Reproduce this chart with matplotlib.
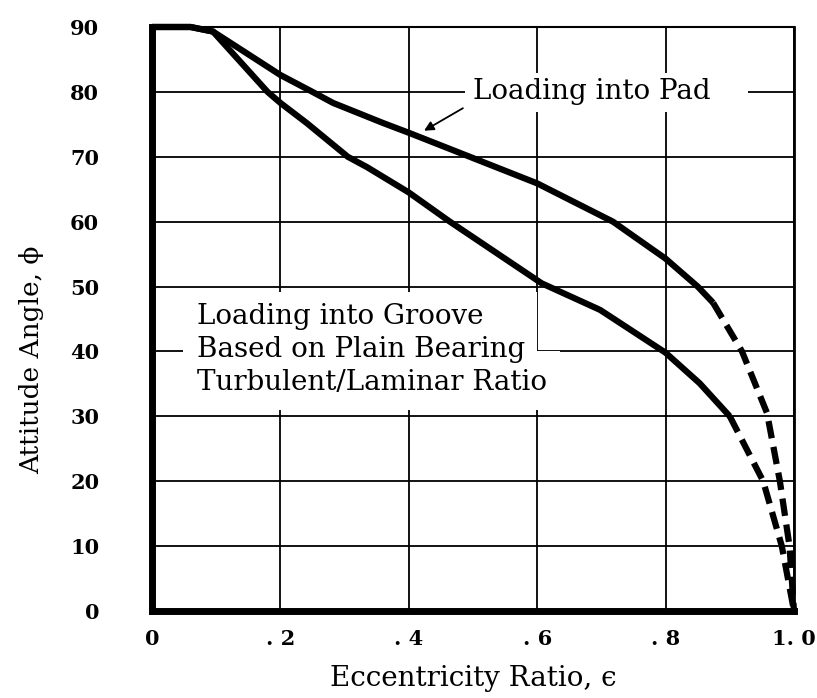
import matplotlib
matplotlib.use("Agg")
import matplotlib.pyplot as plt
from matplotlib.patches import Rectangle

# Loading into pad (upper curve)
pad_eps = [0.0, 0.06, 0.095, 0.2, 0.25, 0.282, 0.36, 0.4, 0.495, 0.6, 0.718, 0.8, 0.85, 0.874]
pad_phi = [90, 90, 89.3, 82.6, 80, 78.3, 75.2, 73.7, 70, 65.9, 60, 54.3, 50, 47.5]
pad_eps_dash = [0.874, 0.919, 0.958, 0.978, 0.993, 1.0]
pad_phi_dash = [47.5, 40, 30.5, 20, 10, 0]

# Loading into groove (lower curve)
groove_eps = [0.0, 0.06, 0.095, 0.18, 0.2, 0.241, 0.305, 0.335, 0.4, 0.464, 0.607, 0.698, 0.8, 0.853, 0.9]
groove_phi = [90, 90, 89.3, 80, 78.3, 75.2, 70, 68.4, 64.5, 60, 50.5, 46.4, 39.8, 35.1, 30]
groove_eps_dash = [0.9, 0.952, 0.981, 1.0]
groove_phi_dash = [30, 20, 10, 0]

x_ticks = [0, 0.2, 0.4, 0.6, 0.8, 1.0]
x_labels = ["0", ". 2", ". 4", ". 6", ". 8", "1. 0"]
y_ticks = [0, 10, 20, 30, 40, 50, 60, 70, 80, 90]

plt.rcParams['font.family'] = ['DejaVu Serif']

fig = plt.figure(figsize=(8.17, 6.98), dpi=100)
ax = fig.add_axes([152 / 817, 87 / 698, 642 / 817, 584 / 698])
ax.set_xlim(0, 1.0)
ax.set_ylim(0, 90)

ax.set_xticks(x_ticks)
ax.set_xticklabels(x_labels, fontsize=15, fontweight='bold')
ax.set_yticks(y_ticks)
ax.set_yticklabels([str(v) for v in y_ticks], fontsize=15, fontweight='bold')
ax.tick_params(axis='x', length=0, pad=13)
ax.tick_params(axis='y', length=0, pad=38)
ax.grid(True, color='black', linewidth=1.3, zorder=0)
ax.set_axisbelow(True)

ax.spines['left'].set_linewidth(5)
ax.spines['bottom'].set_linewidth(5)
ax.spines['top'].set_linewidth(1.5)
ax.spines['right'].set_linewidth(2)

# white areas behind the labels
ax.add_patch(Rectangle((0.488, 76.9), 0.44, 6.0, facecolor='white', edgecolor='none', zorder=1))
ax.add_patch(Rectangle((0.048, 31.0), 0.552, 18.2, facecolor='white', edgecolor='none', zorder=1))
ax.add_patch(Rectangle((0.6, 31.0), 0.035, 9.0, facecolor='white', edgecolor='none', zorder=1))

ax.plot(pad_eps, pad_phi, color='black', lw=4.5, solid_capstyle='butt', clip_on=False, zorder=3)
ax.plot(pad_eps_dash, pad_phi_dash, color='black', lw=4.5, dashes=(2.8, 1.4), clip_on=False, zorder=3)
ax.plot(groove_eps, groove_phi, color='black', lw=4.5, solid_capstyle='butt', clip_on=False, zorder=3)
ax.plot(groove_eps_dash, groove_phi_dash, color='black', lw=4.5, dashes=(2.8, 1.4), clip_on=False, zorder=3)

ax.text(0.5, 80, "Loading into Pad", fontsize=20, va='center', ha='left', zorder=4)
ax.annotate("", xy=(0.42, 73.8), xytext=(0.488, 77.7),
            arrowprops=dict(arrowstyle='-|>', color='black', lw=1.3, mutation_scale=14), zorder=4)

ax.text(0.07, 40.3, "Loading into Groove\nBased on Plain Bearing\nTurbulent/Laminar Ratio",
        fontsize=20, va='center', ha='left', linespacing=1.3, zorder=4)

ax.set_xlabel("Eccentricity Ratio, \u03f5", fontsize=20)
ax.set_ylabel("Attitude Angle, \u03d5", fontsize=19)
ax.xaxis.set_label_coords(0.5, -0.116)
ax.yaxis.set_label_coords(-0.187, 0.43)
ax.xaxis.label.set_va('center')
ax.yaxis.label.set_va('center')

fig.savefig("out.png", dpi=100)
